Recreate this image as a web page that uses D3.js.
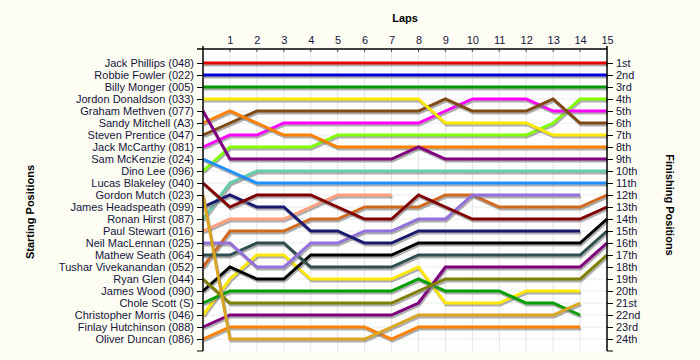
<!DOCTYPE html>
<html><head><meta charset="utf-8">
<script src="https://cdn.jsdelivr.net/npm/d3@7/dist/d3.min.js"></script>
<style>
body{margin:0;background:#fdfdf3;}
svg{display:block;}
text{font-family:"Liberation Sans",Arial,sans-serif;}
</style></head><body>
<svg id="c" width="700" height="360"></svg>
<script>
const drivers = ["Jack Phillips (048)","Robbie Fowler (022)","Billy Monger (005)","Jordon Donaldson (033)","Graham Methven (077)","Sandy Mitchell (A3)","Steven Prentice (047)","Jack McCarthy (081)","Sam McKenzie (024)","Dino Lee (096)","Lucas Blakeley (040)","Gordon Mutch (023)","James Headspeath (099)","Ronan Hirst (087)","Paul Stewart (016)","Neil MacLennan (025)","Mathew Seath (064)","Tushar Vivekanandan (052)","Ryan Glen (044)","James Wood (090)","Chole Scott (S)","Christopher Morris (046)","Finlay Hutchinson (088)","Oliver Duncan (086)"];
const colors = ["#e80000","#0000dd","#009a00","#ffe800","#800080","#ff8000","#7f4a14","#ff00ff","#1e90ff","#7fff00","#800000","#daa520","#191970","#66cdaa","#ffa07a","#9370db","#2f4f4f","#d2691e","#808000","#000000","#00a000","#ffe800","#800080","#ff8000"];
const lapLabels = ["1","2","3","4","5","6","7","8","9","10","11","12","13","14","15"];
const finishLabels = ["1st","2nd","3rd","4th","5th","6th","7th","8th","9th","10th","11th","12th","13th","14th","15th","16th","17th","18th","19th","20th","21st","22nd","23rd","24th"];
// position per lap, lap 0 = start
const positions = [
 [1,1,1,1,1,1,1,1,1,1,1,1,1,1,1,1],
 [2,2,2,2,2,2,2,2,2,2,2,2,2,2,2,2],
 [3,3,3,3,3,3,3,3,3,3,3,3,3,3,3,3],
 [4,4,4,4,4,4,4,4,4,6,6,6,6,7,7,7],
 [5,9,9,9,9,9,9,9,8,9,9,9,9,9,9,9],
 [6,5,6,7,7,8,8,8,8,8,8,8,8,8,8,8],
 [7,6,5,5,5,5,5,5,5,4,5,5,5,4,6,6],
 [8,7,7,6,6,6,6,6,6,5,4,4,4,5,5,5],
 [9,10,11,11,11,11,11,11,11,11,11,11,11,11,11,11],
 [10,8,8,8,8,7,7,7,7,7,7,7,7,6,4,4],
 [11,13,12,12,12,13,14,14,12,13,14,14,14,14,14,13],
 [12,24,24,24,24,24,24,23,22,22,22,22,22,22,21],
 [13,12,13,13,15,15,16,16,15,15,15,15,15,15,15],
 [14,11,10,10,10,10,10,10,10,10,10,10,10,10,10,10],
 [15,14,14,14,13,12,12,12],
 [16,16,18,18,16,16,15,15,14,14,12,12,12,12,12],
 [17,17,16,16,18,18,18,18,17,17,17,17,17,17,17,15],
 [18,15,15,15,14,14,13,13,13,12,12,13,13,13,13,12],
 [19,21,21,21,21,21,21,21,20,19,19,19,19,19,19,17],
 [20,18,19,19,17,17,17,17,16,16,16,16,16,16,16,14],
 [21,20,20,20,20,20,20,20,19,20,20,20,21,21,22],
 [22,19,17,17,19,19,19,19,18,21,21,21,20,20,20],
 [23,22,22,22,22,22,22,22,21,18,18,18,18,18,18,16],
 [24,23,23,23,23,23,23,24,23,23,23,23,23,23,23]
];

(function(){
const svg = d3.select("#c");
const pL = 203, pR = 607, pT = 49, pB = 351;
const x = d3.scaleLinear().domain([0,15]).range([pL,pR]);
const y = d3.scaleLinear().domain([1,24]).range([63,339]);

svg.append("rect").attr("x",pL).attr("y",pT).attr("width",pR-pL).attr("height",pB-pT).attr("fill","#fff");

// grid
const g = svg.append("g");
g.selectAll("line.v").data(d3.range(1,15)).enter().append("line")
 .attr("x1",d=>x(d)).attr("x2",d=>x(d)).attr("y1",pT).attr("y2",pB)
 .attr("stroke","#e4e4e4").attr("stroke-width",1);
g.selectAll("line.h").data(d3.range(1,25)).enter().append("line")
 .attr("x1",pL).attr("x2",pR).attr("y1",d=>y(d)).attr("y2",d=>y(d))
 .attr("stroke","#ececec").attr("stroke-width",1);

// lines
const line = d3.line().x((d,i)=>x(i)).y(d=>y(d));
const order = d3.range(drivers.length).reverse();
const lg = svg.append("g");
order.forEach(i=>{
  lg.append("path").attr("d",line(positions[i])).attr("fill","none")
    .attr("stroke","#7a7a7a").attr("stroke-opacity",0.6).attr("stroke-width",3)
    .attr("transform","translate(1,2)");
  lg.append("path").attr("d",line(positions[i])).attr("fill","none")
    .attr("stroke",colors[i]).attr("stroke-width",3);
});

// axes
const txtCol = "#14143c";
const leftAxis = d3.axisLeft(y).tickValues(d3.range(1,25)).tickFormat(d=>drivers[d-1]).tickSize(6).tickSizeOuter(0);
const la = svg.append("g").attr("transform",`translate(${pL},0)`).call(leftAxis);
la.select(".domain").remove();
const rightAxis = d3.axisRight(y).tickValues(d3.range(1,25)).tickFormat(d=>finishLabels[d-1]).tickSize(6).tickSizeOuter(0);
const ra = svg.append("g").attr("transform",`translate(${pR},0)`).call(rightAxis);
ra.select(".domain").remove();
const topAxis = d3.axisTop(x).tickValues(d3.range(1,16)).tickFormat(d=>lapLabels[d-1]).tickSize(0).tickPadding(5);
const ta = svg.append("g").attr("transform",`translate(0,${pT})`).call(topAxis);
ta.select(".domain").remove();
[la,ra,ta].forEach(a=>{
  a.selectAll("text").attr("font-size",11).attr("fill",txtCol).attr("font-family","'Liberation Sans',Arial,sans-serif");
  a.selectAll(".tick line").attr("stroke","#000");
});
svg.append("g").selectAll("line").data(d3.range(1,15)).enter().append("line")
 .attr("x1",d=>x(d)).attr("x2",d=>x(d)).attr("y1",pT).attr("y2",pT+3).attr("stroke","#555");
svg.append("line").attr("x1",pL-6).attr("x2",pR).attr("y1",pT).attr("y2",pT).attr("stroke","#000").attr("stroke-width",1.5);
svg.append("line").attr("x1",pL).attr("x2",pL).attr("y1",pT-3).attr("y2",pB).attr("stroke","#000").attr("stroke-width",1.5);
svg.append("line").attr("x1",pR).attr("x2",pR).attr("y1",pT-3).attr("y2",pB).attr("stroke","#000").attr("stroke-width",1.5);
svg.append("line").attr("x1",pL-6).attr("x2",pL).attr("y1",pB).attr("y2",pB).attr("stroke","#000");
svg.append("line").attr("x1",pR).attr("x2",pR+6).attr("y1",pB).attr("y2",pB).attr("stroke","#000");

svg.append("text").attr("x",405).attr("y",22).attr("text-anchor","middle").attr("font-size",11).attr("font-weight","bold").text("Laps");
svg.append("text").attr("transform","translate(34,212) rotate(-90)").attr("text-anchor","middle").attr("font-size",11).attr("font-weight","bold").text("Starting Positions");
svg.append("text").attr("transform","translate(666,205) rotate(90)").attr("text-anchor","middle").attr("font-size",11).attr("font-weight","bold").text("Finishing Positions");
})();
</script></body></html>
